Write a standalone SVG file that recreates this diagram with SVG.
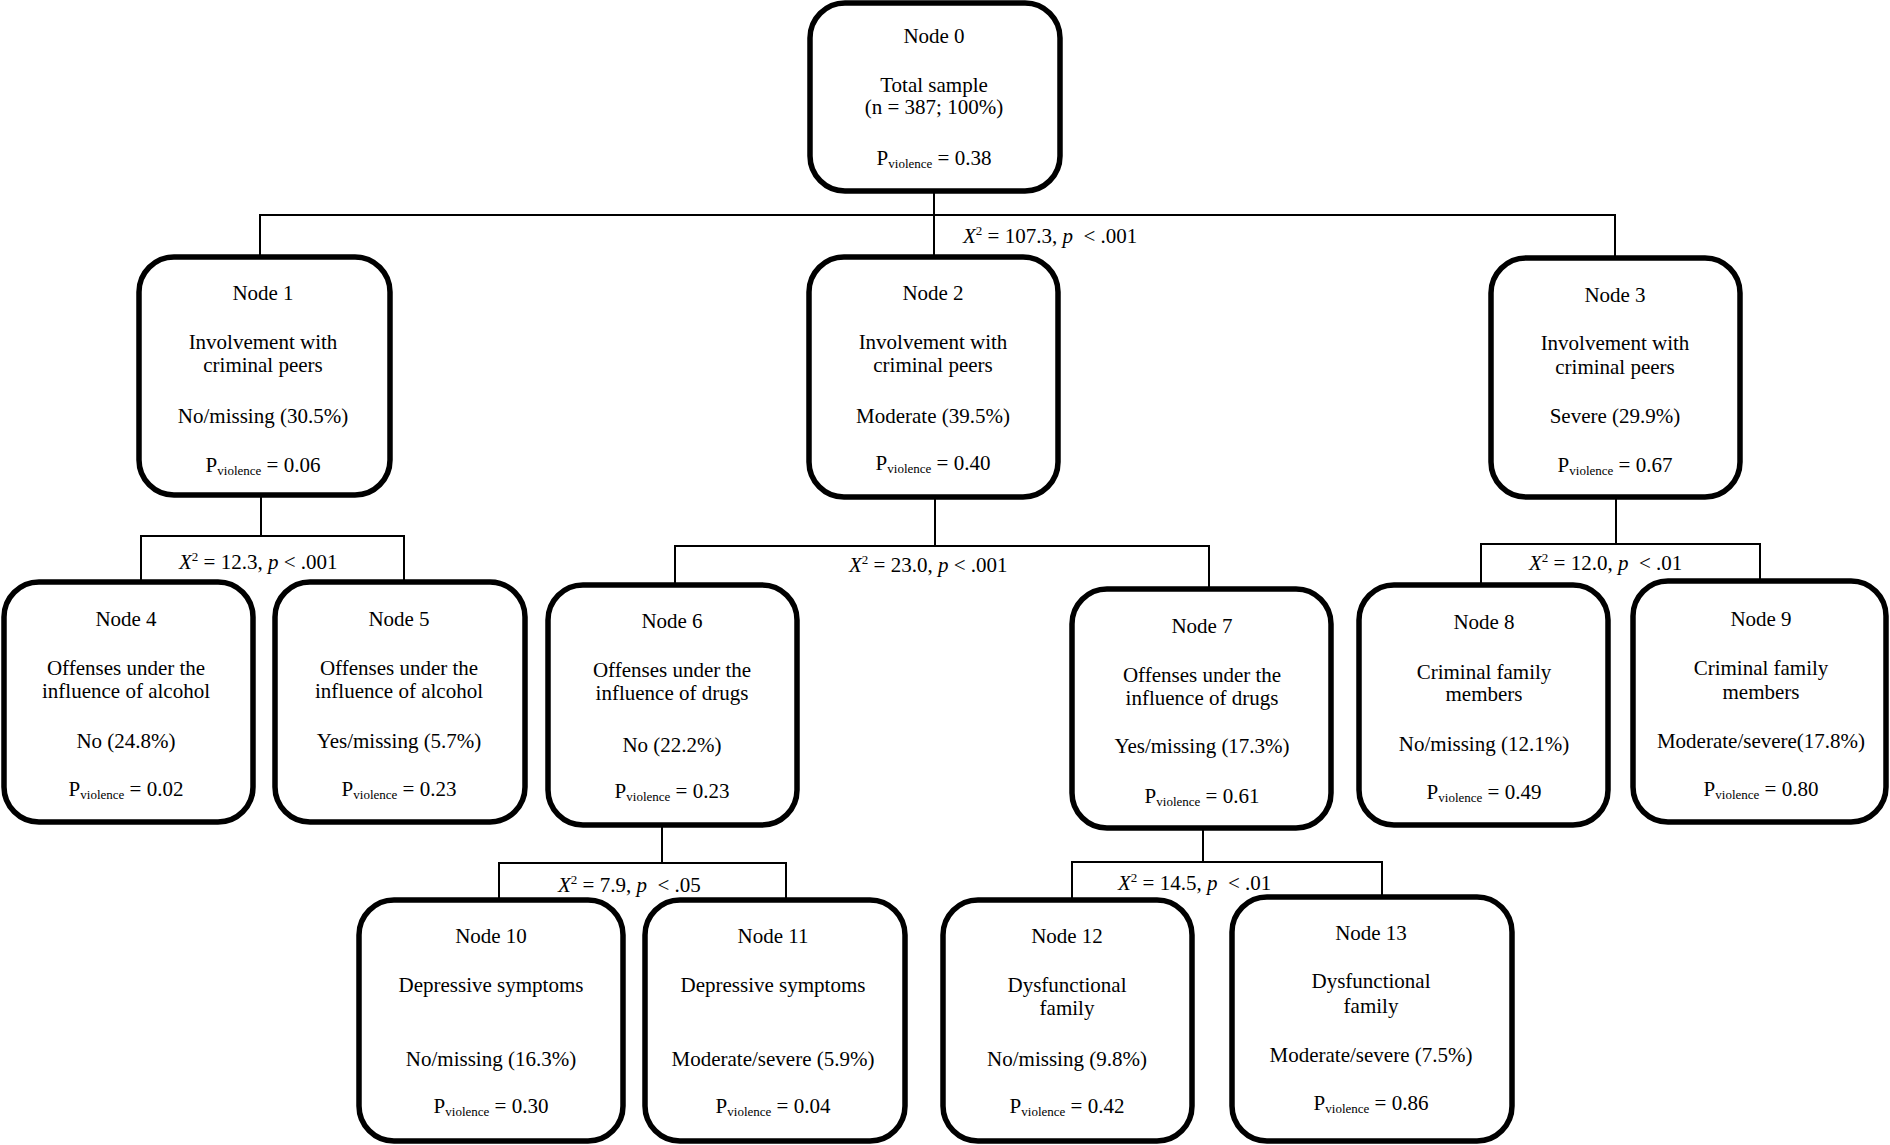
<svg xmlns="http://www.w3.org/2000/svg" width="1890" height="1145" viewBox="0 0 1890 1145">
<style>
text{font-family:"Liberation Serif","Times New Roman",serif;font-size:21px;fill:#000;}
.c{text-anchor:middle;}
.sub{font-size:13px;}
.sup{font-size:13px;}
.i{font-style:italic;}
.lbl{white-space:pre;}
.box{fill:#fff;stroke:#000;stroke-width:5.5;}
.ln{stroke:#000;stroke-width:2;fill:none;}
</style>
<rect width="1890" height="1145" fill="#fff"/>
<g id="connectors">
<path class="ln" d="M934 192V257M260 257V215H1615V258"/>
<path class="ln" d="M261 495V536M141 582V536H404V582"/>
<path class="ln" d="M935 497V546M675 585V546H1209V589"/>
<path class="ln" d="M1616 497V544M1481 585V544H1760V581"/>
<path class="ln" d="M662 825V863M499 900V863H786V900"/>
<path class="ln" d="M1203 828V862M1072 900V862H1382V897"/>
<text class="lbl" x="963" y="243"><tspan class="i">X</tspan><tspan class="sup" dy="-8">2</tspan><tspan dy="8"> = 107.3, </tspan><tspan class="i">p</tspan><tspan>  &lt; .001</tspan></text>
<text class="lbl" x="179" y="569"><tspan class="i">X</tspan><tspan class="sup" dy="-8">2</tspan><tspan dy="8"> = 12.3, </tspan><tspan class="i">p</tspan><tspan> &lt; .001</tspan></text>
<text class="lbl" x="849" y="572"><tspan class="i">X</tspan><tspan class="sup" dy="-8">2</tspan><tspan dy="8"> = 23.0, </tspan><tspan class="i">p</tspan><tspan> &lt; .001</tspan></text>
<text class="lbl" x="1529" y="570"><tspan class="i">X</tspan><tspan class="sup" dy="-8">2</tspan><tspan dy="8"> = 12.0, </tspan><tspan class="i">p</tspan><tspan>  &lt; .01</tspan></text>
<text class="lbl" x="558" y="892"><tspan class="i">X</tspan><tspan class="sup" dy="-8">2</tspan><tspan dy="8"> = 7.9, </tspan><tspan class="i">p</tspan><tspan>  &lt; .05</tspan></text>
<text class="lbl" x="1118" y="890"><tspan class="i">X</tspan><tspan class="sup" dy="-8">2</tspan><tspan dy="8"> = 14.5, </tspan><tspan class="i">p</tspan><tspan>  &lt; .01</tspan></text>
</g>
<g id="node0">
<rect class="box" x="810" y="3" width="250" height="188" rx="35"/>
<text class="c" x="934" y="43">Node 0</text>
<text class="c" x="934" y="92">Total sample</text>
<text class="c" x="934" y="114">(n = 387; 100%)</text>
<text class="c" x="934" y="165">P<tspan class="sub" dy="3">violence</tspan><tspan dy="-3"> = 0.38</tspan></text>
</g>
<g id="node1">
<rect class="box" x="139" y="257" width="251" height="238" rx="35"/>
<text class="c" x="263" y="300">Node 1</text>
<text class="c" x="263" y="349">Involvement with</text>
<text class="c" x="263" y="372">criminal peers</text>
<text class="c" x="263" y="423">No/missing (30.5%)</text>
<text class="c" x="263" y="472">P<tspan class="sub" dy="3">violence</tspan><tspan dy="-3"> = 0.06</tspan></text>
</g>
<g id="node2">
<rect class="box" x="809" y="257" width="249" height="240" rx="35"/>
<text class="c" x="933" y="300">Node 2</text>
<text class="c" x="933" y="349">Involvement with</text>
<text class="c" x="933" y="372">criminal peers</text>
<text class="c" x="933" y="423">Moderate (39.5%)</text>
<text class="c" x="933" y="470">P<tspan class="sub" dy="3">violence</tspan><tspan dy="-3"> = 0.40</tspan></text>
</g>
<g id="node3">
<rect class="box" x="1491" y="258" width="249" height="239" rx="35"/>
<text class="c" x="1615" y="302">Node 3</text>
<text class="c" x="1615" y="350">Involvement with</text>
<text class="c" x="1615" y="374">criminal peers</text>
<text class="c" x="1615" y="423">Severe (29.9%)</text>
<text class="c" x="1615" y="472">P<tspan class="sub" dy="3">violence</tspan><tspan dy="-3"> = 0.67</tspan></text>
</g>
<g id="node4">
<rect class="box" x="4" y="582" width="249" height="240" rx="35"/>
<text class="c" x="126" y="626">Node 4</text>
<text class="c" x="126" y="675">Offenses under the</text>
<text class="c" x="126" y="698">influence of alcohol</text>
<text class="c" x="126" y="748">No (24.8%)</text>
<text class="c" x="126" y="796">P<tspan class="sub" dy="3">violence</tspan><tspan dy="-3"> = 0.02</tspan></text>
</g>
<g id="node5">
<rect class="box" x="275" y="582" width="250" height="240" rx="35"/>
<text class="c" x="399" y="626">Node 5</text>
<text class="c" x="399" y="675">Offenses under the</text>
<text class="c" x="399" y="698">influence of alcohol</text>
<text class="c" x="399" y="748">Yes/missing (5.7%)</text>
<text class="c" x="399" y="796">P<tspan class="sub" dy="3">violence</tspan><tspan dy="-3"> = 0.23</tspan></text>
</g>
<g id="node6">
<rect class="box" x="548" y="585" width="249" height="240" rx="35"/>
<text class="c" x="672" y="628">Node 6</text>
<text class="c" x="672" y="677">Offenses under the</text>
<text class="c" x="672" y="700">influence of drugs</text>
<text class="c" x="672" y="752">No (22.2%)</text>
<text class="c" x="672" y="798">P<tspan class="sub" dy="3">violence</tspan><tspan dy="-3"> = 0.23</tspan></text>
</g>
<g id="node7">
<rect class="box" x="1072" y="589" width="259" height="239" rx="35"/>
<text class="c" x="1202" y="633">Node 7</text>
<text class="c" x="1202" y="682">Offenses under the</text>
<text class="c" x="1202" y="705">influence of drugs</text>
<text class="c" x="1202" y="753">Yes/missing (17.3%)</text>
<text class="c" x="1202" y="803">P<tspan class="sub" dy="3">violence</tspan><tspan dy="-3"> = 0.61</tspan></text>
</g>
<g id="node8">
<rect class="box" x="1359" y="585" width="249" height="240" rx="35"/>
<text class="c" x="1484" y="629">Node 8</text>
<text class="c" x="1484" y="679">Criminal family</text>
<text class="c" x="1484" y="701">members</text>
<text class="c" x="1484" y="751">No/missing (12.1%)</text>
<text class="c" x="1484" y="799">P<tspan class="sub" dy="3">violence</tspan><tspan dy="-3"> = 0.49</tspan></text>
</g>
<g id="node9">
<rect class="box" x="1633" y="581" width="253" height="241" rx="35"/>
<text class="c" x="1761" y="626">Node 9</text>
<text class="c" x="1761" y="675">Criminal family</text>
<text class="c" x="1761" y="699">members</text>
<text class="c" x="1761" y="748">Moderate/severe(17.8%)</text>
<text class="c" x="1761" y="796">P<tspan class="sub" dy="3">violence</tspan><tspan dy="-3"> = 0.80</tspan></text>
</g>
<g id="node10">
<rect class="box" x="359" y="900" width="264" height="241" rx="35"/>
<text class="c" x="491" y="943">Node 10</text>
<text class="c" x="491" y="992">Depressive symptoms</text>
<text class="c" x="491" y="1066">No/missing (16.3%)</text>
<text class="c" x="491" y="1113">P<tspan class="sub" dy="3">violence</tspan><tspan dy="-3"> = 0.30</tspan></text>
</g>
<g id="node11">
<rect class="box" x="645" y="900" width="260" height="241" rx="35"/>
<text class="c" x="773" y="943">Node 11</text>
<text class="c" x="773" y="992">Depressive symptoms</text>
<text class="c" x="773" y="1066">Moderate/severe (5.9%)</text>
<text class="c" x="773" y="1113">P<tspan class="sub" dy="3">violence</tspan><tspan dy="-3"> = 0.04</tspan></text>
</g>
<g id="node12">
<rect class="box" x="943" y="900" width="249" height="241" rx="35"/>
<text class="c" x="1067" y="943">Node 12</text>
<text class="c" x="1067" y="992">Dysfunctional</text>
<text class="c" x="1067" y="1015">family</text>
<text class="c" x="1067" y="1066">No/missing (9.8%)</text>
<text class="c" x="1067" y="1113">P<tspan class="sub" dy="3">violence</tspan><tspan dy="-3"> = 0.42</tspan></text>
</g>
<g id="node13">
<rect class="box" x="1232" y="897" width="280" height="244" rx="35"/>
<text class="c" x="1371" y="940">Node 13</text>
<text class="c" x="1371" y="988">Dysfunctional</text>
<text class="c" x="1371" y="1013">family</text>
<text class="c" x="1371" y="1062">Moderate/severe (7.5%)</text>
<text class="c" x="1371" y="1110">P<tspan class="sub" dy="3">violence</tspan><tspan dy="-3"> = 0.86</tspan></text>
</g>
</svg>
